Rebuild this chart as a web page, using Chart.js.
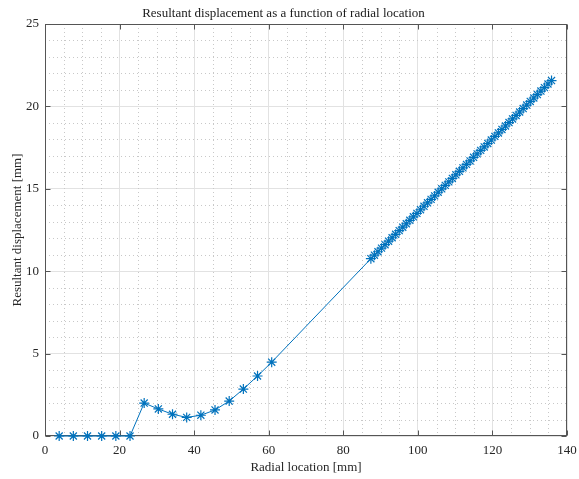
<!DOCTYPE html>
<html>
<head>
<meta charset="utf-8">
<script src="https://cdn.jsdelivr.net/npm/chart.js@4.4.0/dist/chart.umd.min.js"></script>
<style>
html, body { margin: 0; padding: 0; background: #fff; }
#wrap { width: 579px; height: 479px; }
</style>
</head>
<body>
<div id="wrap"><canvas id="myCanvas" width="579" height="479"></canvas></div>
<script>
'use strict';

// radial location [mm]
var radial = [3.8, 7.6, 11.4, 15.2, 19.0, 22.8, 26.6, 30.4, 34.2, 38.0, 41.8, 45.6, 49.4, 53.2, 57.0, 60.8,
    87.40, 88.35, 89.30, 90.25, 91.20, 92.15, 93.10, 94.05, 95.00, 95.95, 96.90, 97.85, 98.80, 99.75,
    100.70, 101.65, 102.60, 103.55, 104.50, 105.45, 106.40, 107.35, 108.30, 109.25, 110.20, 111.15,
    112.10, 113.05, 114.00, 114.95, 115.90, 116.85, 117.80, 118.75, 119.70, 120.65, 121.60, 122.55,
    123.50, 124.45, 125.40, 126.35, 127.30, 128.25, 129.20, 130.15, 131.10, 132.05, 133.00, 133.95,
    134.90, 135.85];

// resultant displacement [mm]
var displacement = [0, 0, 0, 0, 0, 0, 2.0, 1.64, 1.32, 1.13, 1.26, 1.58, 2.12, 2.85, 3.64, 4.48,
    10.76, 10.97, 11.18, 11.40, 11.61, 11.82, 12.03, 12.24, 12.46, 12.67, 12.88, 13.09, 13.30, 13.51,
    13.73, 13.94, 14.15, 14.36, 14.57, 14.79, 15.00, 15.21, 15.42, 15.63, 15.85, 16.06,
    16.27, 16.48, 16.69, 16.91, 17.12, 17.33, 17.54, 17.75, 17.96, 18.18, 18.39, 18.60,
    18.81, 19.02, 19.24, 19.45, 19.66, 19.87, 20.08, 20.30, 20.51, 20.72, 20.93, 21.14,
    21.36, 21.57];

var xTicks = [0, 20, 40, 60, 80, 100, 120, 140];
var yTicks = [0, 5, 10, 15, 20, 25];

var points = radial.map(function(x, i) { return {x: x, y: displacement[i]}; });

var blue = '#0072BD';
var serif = '"Liberation Serif", "Times New Roman", serif';

// minor dotted grid + box with inward ticks, like matlab
var matlabAxes = {
    id: 'matlabAxes',
    beforeDatasetsDraw: function(chart) {
        var ctx = chart.ctx, a = chart.chartArea;
        var xs = chart.scales.x, ys = chart.scales.y;
        ctx.save();
        ctx.strokeStyle = '#c8c8c8';
        ctx.lineWidth = 1;
        ctx.setLineDash([1, 3]);
        var v, p;
        for (v = 0; v <= 140; v += 5) {
            if (v % 20 === 0) continue;
            p = Math.round(xs.getPixelForValue(v)) + 0.5;
            ctx.beginPath(); ctx.moveTo(p, a.top); ctx.lineTo(p, a.bottom); ctx.stroke();
        }
        for (v = 0; v <= 25; v += 1) {
            if (v % 5 === 0) continue;
            p = Math.round(ys.getPixelForValue(v)) + 0.5;
            ctx.beginPath(); ctx.moveTo(a.left, p); ctx.lineTo(a.right, p); ctx.stroke();
        }
        ctx.setLineDash([]);

        ctx.strokeStyle = '#555555';
        var L = Math.round(a.left) + 0.5, R = Math.round(a.right) - 0.5;
        var T = Math.round(a.top) + 0.5, B = Math.round(a.bottom) - 0.5;
        ctx.strokeRect(L, T, R - L, B - T);
        ctx.beginPath();
        xTicks.forEach(function(v) {
            var p = Math.round(xs.getPixelForValue(v)) + 0.5;
            ctx.moveTo(p, B); ctx.lineTo(p, B - 5);
            ctx.moveTo(p, T); ctx.lineTo(p, T + 5);
        });
        yTicks.forEach(function(v) {
            var p = Math.round(ys.getPixelForValue(v)) + 0.5;
            ctx.moveTo(L, p); ctx.lineTo(L + 5, p);
            ctx.moveTo(R, p); ctx.lineTo(R - 5, p);
        });
        ctx.stroke();
        ctx.restore();
    }
};

var ctx = document.getElementById('myCanvas').getContext('2d');
var myChart = new Chart(ctx, {
    type: 'scatter',
    data: {
        datasets: [{
            data: points,
            showLine: true,
            clip: false,
            borderColor: blue,
            backgroundColor: blue,
            borderWidth: 1,
            pointStyle: 'star',
            pointRadius: 5,
            pointBorderWidth: 1.2,
            pointBorderColor: blue,
            pointHoverRadius: 5
        }]
    },
    options: {
        responsive: false,
        animation: false,
        layout: { padding: { left: 0, right: 12, top: 0, bottom: 0 } },
        plugins: {
            legend: { display: false },
            tooltip: { enabled: false },
            title: {
                display: true,
                text: 'Resultant displacement as a function of radial location',
                color: '#1a1a1a',
                font: { family: serif, size: 13, weight: 'normal', lineHeight: 1.2 },
                padding: { top: 6, bottom: 2.4 }
            }
        },
        scales: {
            x: {
                type: 'linear',
                min: 0,
                max: 140,
                afterFit: function(scale) {
                    scale.height = 43;
                    scale.paddingLeft = 0;
                    scale.paddingRight = 0;
                },
                afterBuildTicks: function(scale) {
                    scale.ticks = xTicks.map(function(v) { return {value: v}; });
                },
                grid: { color: '#e2e2e2', lineWidth: 1, drawTicks: false },
                border: { display: false },
                ticks: {
                    color: '#262626',
                    padding: 7,
                    maxRotation: 0,
                    font: { family: serif, size: 13 }
                },
                title: {
                    display: true,
                    text: 'Radial location [mm]',
                    color: '#262626',
                    font: { family: serif, size: 13 },
                    padding: { top: 0, bottom: 4 }
                }
            },
            y: {
                type: 'linear',
                min: 0,
                max: 25,
                afterFit: function(scale) { scale.width = 45; },
                afterBuildTicks: function(scale) {
                    scale.ticks = yTicks.map(function(v) { return {value: v}; });
                },
                grid: { color: '#e2e2e2', lineWidth: 1, drawTicks: false },
                border: { display: false },
                ticks: {
                    color: '#262626',
                    padding: 6,
                    font: { family: serif, size: 13 }
                },
                title: {
                    display: true,
                    text: 'Resultant displacement [mm]',
                    color: '#262626',
                    font: { family: serif, size: 13 },
                    padding: { top: 10, bottom: 0 }
                }
            }
        }
    },
    plugins: [matlabAxes]
});
</script>
</body>
</html>
